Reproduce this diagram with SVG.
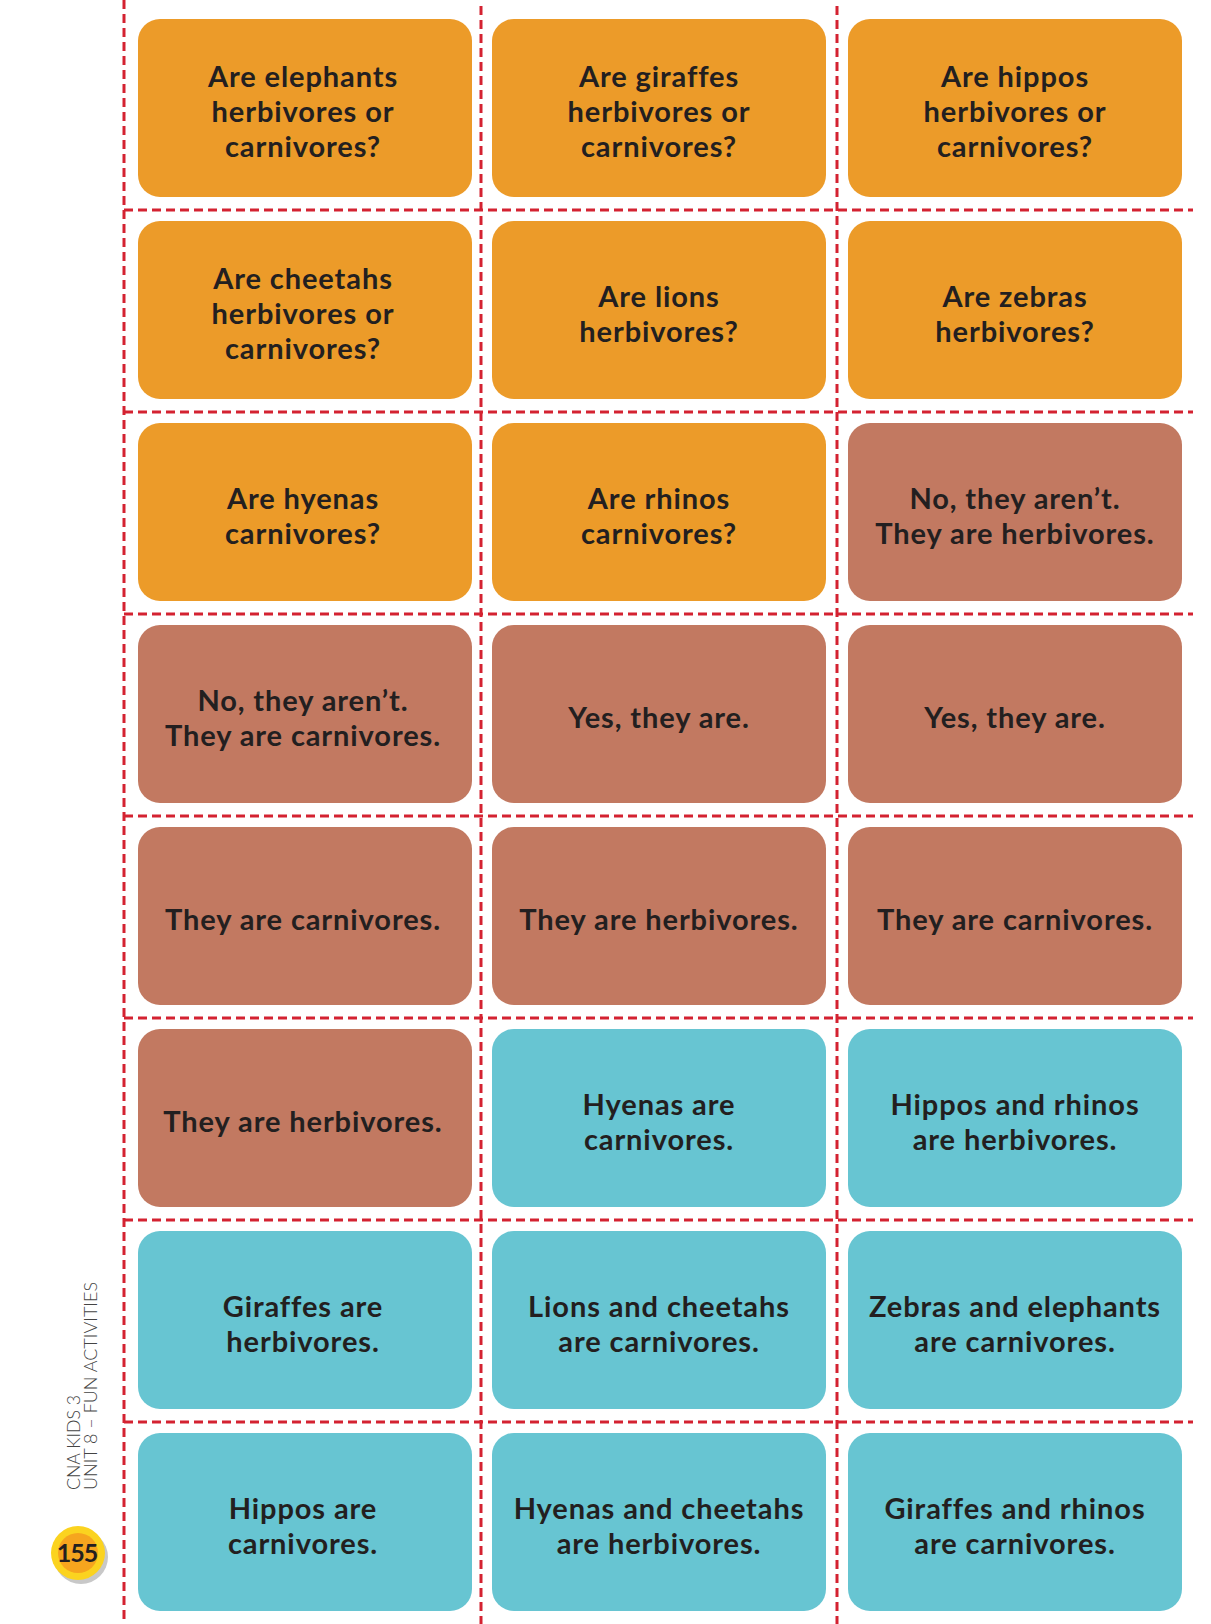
<svg xmlns="http://www.w3.org/2000/svg" width="1211" height="1624" viewBox="0 0 1211 1624">
<style>
.card{stroke:none}
.q{fill:#EC9B29}
.a{fill:#C27961}
.s{fill:#67C5D2}
.t{font-family:"Lato","Liberation Sans",sans-serif;font-weight:700;font-size:29px;letter-spacing:0.9px;fill:#231F20;text-anchor:middle}
.cut{stroke:#D42231;stroke-width:3;stroke-dasharray:9 5;fill:none}
.side{font-family:"Lato","Liberation Sans",sans-serif;font-weight:300;font-size:18px;fill:#444}
</style>
<rect width="1211" height="1624" fill="#FFFFFF"/>
<g id="connectors">
<line class="cut" x1="124" y1="0" x2="124" y2="1624"/>
<line class="cut" x1="481" y1="6" x2="481" y2="1624"/>
<line class="cut" x1="837" y1="6" x2="837" y2="1624"/>
<line class="cut" x1="124" y1="210" x2="1193" y2="210"/>
<line class="cut" x1="124" y1="412" x2="1193" y2="412"/>
<line class="cut" x1="124" y1="614" x2="1193" y2="614"/>
<line class="cut" x1="124" y1="816" x2="1193" y2="816"/>
<line class="cut" x1="124" y1="1018" x2="1193" y2="1018"/>
<line class="cut" x1="124" y1="1220" x2="1193" y2="1220"/>
<line class="cut" x1="124" y1="1422" x2="1193" y2="1422"/>
</g>
<g id="card-r1c1"><rect class="card q" x="138" y="19" width="334" height="178" rx="22"/><text class="t"><tspan x="303" y="87">Are elephants</tspan><tspan x="303" y="122">herbivores or</tspan><tspan x="303" y="157">carnivores?</tspan></text></g>
<g id="card-r1c2"><rect class="card q" x="492" y="19" width="334" height="178" rx="22"/><text class="t"><tspan x="659" y="87">Are giraffes</tspan><tspan x="659" y="122">herbivores or</tspan><tspan x="659" y="157">carnivores?</tspan></text></g>
<g id="card-r1c3"><rect class="card q" x="848" y="19" width="334" height="178" rx="22"/><text class="t"><tspan x="1015" y="87">Are hippos</tspan><tspan x="1015" y="122">herbivores or</tspan><tspan x="1015" y="157">carnivores?</tspan></text></g>

<g id="card-r2c1"><rect class="card q" x="138" y="221" width="334" height="178" rx="22"/><text class="t"><tspan x="303" y="289">Are cheetahs</tspan><tspan x="303" y="324">herbivores or</tspan><tspan x="303" y="359">carnivores?</tspan></text></g>
<g id="card-r2c2"><rect class="card q" x="492" y="221" width="334" height="178" rx="22"/><text class="t"><tspan x="659" y="306.5">Are lions</tspan><tspan x="659" y="341.5">herbivores?</tspan></text></g>
<g id="card-r2c3"><rect class="card q" x="848" y="221" width="334" height="178" rx="22"/><text class="t"><tspan x="1015" y="306.5">Are zebras</tspan><tspan x="1015" y="341.5">herbivores?</tspan></text></g>

<g id="card-r3c1"><rect class="card q" x="138" y="423" width="334" height="178" rx="22"/><text class="t"><tspan x="303" y="508.5">Are hyenas</tspan><tspan x="303" y="543.5">carnivores?</tspan></text></g>
<g id="card-r3c2"><rect class="card q" x="492" y="423" width="334" height="178" rx="22"/><text class="t"><tspan x="659" y="508.5">Are rhinos</tspan><tspan x="659" y="543.5">carnivores?</tspan></text></g>
<g id="card-r3c3"><rect class="card a" x="848" y="423" width="334" height="178" rx="22"/><text class="t"><tspan x="1015" y="508.5">No, they aren’t.</tspan><tspan x="1015" y="543.5">They are herbivores.</tspan></text></g>

<g id="card-r4c1"><rect class="card a" x="138" y="625" width="334" height="178" rx="22"/><text class="t"><tspan x="303" y="710.5">No, they aren’t.</tspan><tspan x="303" y="745.5">They are carnivores.</tspan></text></g>
<g id="card-r4c2"><rect class="card a" x="492" y="625" width="334" height="178" rx="22"/><text class="t" x="659" y="728">Yes, they are.</text></g>
<g id="card-r4c3"><rect class="card a" x="848" y="625" width="334" height="178" rx="22"/><text class="t" x="1015" y="728">Yes, they are.</text></g>

<g id="card-r5c1"><rect class="card a" x="138" y="827" width="334" height="178" rx="22"/><text class="t" x="303" y="930">They are carnivores.</text></g>
<g id="card-r5c2"><rect class="card a" x="492" y="827" width="334" height="178" rx="22"/><text class="t" x="659" y="930">They are herbivores.</text></g>
<g id="card-r5c3"><rect class="card a" x="848" y="827" width="334" height="178" rx="22"/><text class="t" x="1015" y="930">They are carnivores.</text></g>

<g id="card-r6c1"><rect class="card a" x="138" y="1029" width="334" height="178" rx="22"/><text class="t" x="303" y="1132">They are herbivores.</text></g>
<g id="card-r6c2"><rect class="card s" x="492" y="1029" width="334" height="178" rx="22"/><text class="t"><tspan x="659" y="1114.5">Hyenas are</tspan><tspan x="659" y="1149.5">carnivores.</tspan></text></g>
<g id="card-r6c3"><rect class="card s" x="848" y="1029" width="334" height="178" rx="22"/><text class="t"><tspan x="1015" y="1114.5">Hippos and rhinos</tspan><tspan x="1015" y="1149.5">are herbivores.</tspan></text></g>

<g id="card-r7c1"><rect class="card s" x="138" y="1231" width="334" height="178" rx="22"/><text class="t"><tspan x="303" y="1316.5">Giraffes are</tspan><tspan x="303" y="1351.5">herbivores.</tspan></text></g>
<g id="card-r7c2"><rect class="card s" x="492" y="1231" width="334" height="178" rx="22"/><text class="t"><tspan x="659" y="1316.5">Lions and cheetahs</tspan><tspan x="659" y="1351.5">are carnivores.</tspan></text></g>
<g id="card-r7c3"><rect class="card s" x="848" y="1231" width="334" height="178" rx="22"/><text class="t"><tspan x="1015" y="1316.5">Zebras and elephants</tspan><tspan x="1015" y="1351.5">are carnivores.</tspan></text></g>

<g id="card-r8c1"><rect class="card s" x="138" y="1433" width="334" height="178" rx="22"/><text class="t"><tspan x="303" y="1518.5">Hippos are</tspan><tspan x="303" y="1553.5">carnivores.</tspan></text></g>
<g id="card-r8c2"><rect class="card s" x="492" y="1433" width="334" height="178" rx="22"/><text class="t"><tspan x="659" y="1518.5">Hyenas and cheetahs</tspan><tspan x="659" y="1553.5">are herbivores.</tspan></text></g>
<g id="card-r8c3"><rect class="card s" x="848" y="1433" width="334" height="178" rx="22"/><text class="t"><tspan x="1015" y="1518.5">Giraffes and rhinos</tspan><tspan x="1015" y="1553.5">are carnivores.</tspan></text></g>

<g id="side-label">
<text class="side" transform="translate(80,1490) rotate(-90)" textLength="95" lengthAdjust="spacingAndGlyphs">CNA KIDS 3</text>
<text class="side" transform="translate(97,1490) rotate(-90)" textLength="208" lengthAdjust="spacingAndGlyphs">UNIT 8 – FUN ACTIVITIES</text>
</g>
<g id="page-badge">
<circle cx="81" cy="1557" r="27" fill="#C8C8C8"/>
<circle cx="78" cy="1553" r="27" fill="#FBD31F"/>
<circle cx="78" cy="1553" r="20" fill="#F6A51E"/>
<text x="77" y="1562" font-family="Lato,'Liberation Sans',sans-serif" font-weight="700" font-size="25" fill="#231F20" text-anchor="middle" letter-spacing="-1">155</text>
</g>
</svg>
